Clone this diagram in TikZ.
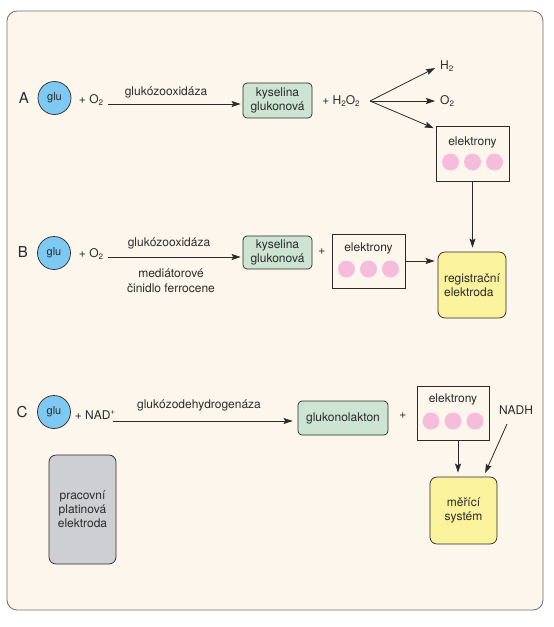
\documentclass[tikz,border=0pt]{standalone}
\usepackage{fontspec}
\setmainfont{TeX Gyre Heros}
\usetikzlibrary{arrows.meta}
\definecolor{bg}{HTML}{FDF6EC}
\definecolor{frame}{HTML}{707070}
\definecolor{glublue}{HTML}{7DC9F1}
\definecolor{boxgreen}{HTML}{CCE4D1}
\definecolor{pinkdot}{HTML}{F5BCDC}
\definecolor{yelbox}{HTML}{FBF29E}
\definecolor{greybox}{HTML}{CDCFD3}
\definecolor{ink}{HTML}{2A2A2A}
\newcommand\sbs[1]{\raisebox{-0.4ex}{\fontsize{8}{8}\selectfont #1}}
\newcommand\sps[1]{\raisebox{0.9ex}{\fontsize{8}{8}\selectfont #1}}
\begin{document}
\begin{tikzpicture}[x=1pt,y=-1pt,
  txt/.style={font=\fontsize{12}{15}\selectfont, text=ink, inner sep=0pt, align=center},
  lbl/.style={font=\fontsize{15}{15}\selectfont, text=ink, inner sep=0pt},
  glu/.style={circle, draw=ink, line width=0.7pt, fill=glublue, minimum size=33pt, inner sep=0pt, font=\fontsize{11}{11}\selectfont, text=ink},
  gbox/.style={draw=ink, line width=0.7pt, fill=boxgreen, rounded corners=4pt, inner sep=0pt, align=center, font=\fontsize{12}{14}\selectfont, text=ink},
  ybox/.style={draw=ink, line width=0.7pt, fill=yelbox, rounded corners=7pt, inner sep=0pt, align=left, font=\fontsize{12}{14}\selectfont, text=ink},
  ebox/.style={draw=ink, line width=0.7pt, fill=bg, minimum width=73pt, minimum height=55pt, inner sep=0pt},
  dot/.style={circle, fill=pinkdot, minimum size=17pt, inner sep=0pt},
  arr/.style={draw=ink, line width=0.8pt, -{Stealth[length=9pt,width=6pt,inset=1.5pt]}},
  ]
\useasboundingbox (0,0) rectangle (554,627);
\fill[white] (0,0) rectangle (554,627);
\draw[frame, line width=0.8pt, fill=bg, rounded corners=10pt] (7,11) rectangle (543,610);

% ---------- row A ----------
\node[lbl] (lA) at (24,98) {A};
\node[glu] (gA) at (54.5,98) {glu};
\node[txt] (oA) at (91,100) {+ O\sbs{2}};
\node[gbox, minimum width=69pt, minimum height=35pt] (kA) at (277.5,100.5) {kyselina\\glukonová};
\coordinate (aA) at (108,104);
\draw[arr, shorten >=2pt] (aA) -- (aA -| kA.west);
\node[txt] (enzA) at (166,92) {glukózooxidáza};
\node[txt] (hA) at (341,101) {+ H\sbs{2}O\sbs{2}};
\coordinate (br) at (370,101);
\node[txt, anchor=west] (h2) at (440,66) {H\sbs{2}};
\node[txt, anchor=west] (o2) at (440,101) {O\sbs{2}};
\node[ebox] (eA) at (472.5,154) {};
\node[txt] (eAt) at ([shift={(0,-12)}]eA.center) {elektrony};
\node[dot] (eA1) at ([shift={(-22,8)}]eA.center) {};
\node[dot] (eA2) at ([shift={(0,8)}]eA.center) {};
\node[dot] (eA3) at ([shift={(22,8)}]eA.center) {};
\draw[arr] (br) -- ([shift={(-5,2)}]h2.west);
\draw[arr] (br) -- ([xshift=-5]o2.west);
\draw[arr] (br) -- ([shift={(-2,2)}]eA.north west);

% ---------- row B ----------
\node[lbl] (lB) at (23,252) {B};
\node[glu] (gB) at (54,253) {glu};
\node[txt] (oB) at (91,254) {+ O\sbs{2}};
\node[gbox, minimum width=69pt, minimum height=33pt] (kB) at (277.5,252.5) {kyselina\\glukonová};
\coordinate (aB) at (108,257);
\draw[arr, shorten >=2pt] (aB) -- (aB -| kB.west);
\node[txt] (enzB) at (169,243) {glukózooxidáza};
\node[txt] (medB) at (171,280.5) {mediátorové\\činidlo ferrocene};
\node[txt] (plB) at (322,252) {+};
\node[ebox, minimum height=54pt] (eB) at (368.5,261) {};
\node[txt] (eBt) at ([shift={(0,-13)}]eB.center) {elektrony};
\node[dot] (eB1) at ([shift={(-22,8)}]eB.center) {};
\node[dot] (eB2) at ([shift={(0,8)}]eB.center) {};
\node[dot] (eB3) at ([shift={(22,8)}]eB.center) {};
\node[ybox, minimum width=68pt, minimum height=66pt] (reg) at (472,285) {registrační\\elektroda};
\draw[arr, shorten >=3pt] (eB.east) -- (eB.east -| reg.west);
\draw[arr, shorten >=4pt] (eA.south) -- (eA.south |- reg.north);

% ---------- row C ----------
\node[lbl] (lC) at (22,412) {C};
\node[glu] (gC) at (54,412) {glu};
\node[txt] (nC) at (95,415) {+ NAD\sps{+}};
\node[gbox, minimum width=90pt, minimum height=34pt] (gl) at (343,418) {glukonolakton};
\coordinate (aC) at (113,421);
\draw[arr, shorten >=5pt] (aC) -- (aC -| gl.west);
\node[txt] (enzC) at (199,405) {glukózodehydrogenáza};
\node[txt] (plC) at (403,416) {+};
\node[ebox, minimum width=72pt, minimum height=54pt] (eC) at (453,413) {};
\node[txt] (eCt) at ([shift={(0,-14)}]eC.center) {elektrony};
\node[dot] (eC1) at ([shift={(-22,8)}]eC.center) {};
\node[dot] (eC2) at ([shift={(0,8)}]eC.center) {};
\node[dot] (eC3) at ([shift={(22,8)}]eC.center) {};
\node[txt] (nadh) at (516,410) {NADH};
\node[ybox, align=center, minimum width=67pt, minimum height=67pt] (mer) at (463.5,510.5) {měřící\\systém};
\draw[arr, shorten >=4pt] ([xshift=5pt]eC.south) -- ([xshift=5pt]eC.south |- mer.north);
\draw[arr, shorten >=4pt] ([shift={(-9,14)}]nadh.center) -- ([xshift=20pt]mer.north);

\node[draw=ink, line width=0.7pt, fill=greybox, rounded corners=7pt, minimum width=67pt, minimum height=109pt, inner sep=0pt, align=center, font=\fontsize{12}{14}\selectfont, text=ink] (pt) at (82.5,509.5) {pracovní\\platinová\\elektroda};
\end{tikzpicture}
\end{document}
